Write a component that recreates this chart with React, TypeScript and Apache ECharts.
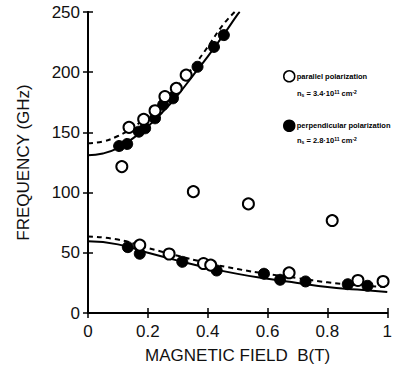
import React, { useEffect, useRef } from "react";
import * as echarts from "echarts";

// Measured data (B in tesla, frequency in GHz)
const perpUpperB = [0.104, 0.131, 0.17, 0.191, 0.224, 0.251, 0.284, 0.366, 0.421, 0.454];
const perpUpperF = [138.7, 140.4, 150.6, 153.4, 161.7, 172.9, 178.3, 204.5, 221, 230.8];
const perpLowerB = [0.133, 0.173, 0.315, 0.43, 0.588, 0.642, 0.727, 0.868, 0.934];
const perpLowerF = [54.7, 49.2, 42.5, 35.3, 32.6, 27.6, 26.2, 23.9, 22.6];

const paraUpperB = [0.137, 0.186, 0.224, 0.257, 0.295, 0.328];
const paraUpperF = [154.2, 160.9, 168, 179.8, 186.6, 197.6];
const paraLowerB = [0.173, 0.271, 0.386, 0.41, 0.672, 0.902, 0.986];
const paraLowerF = [56.4, 49, 41.1, 39.8, 33.4, 27, 26.2];
const paraIsolatedB = [0.113, 0.352, 0.536, 0.816];
const paraIsolatedF = [121.6, 100.8, 90.6, 76.8];

// Theory curves
const upperSolidB = [0, 0.05, 0.1, 0.15, 0.2, 0.25, 0.3, 0.35, 0.4, 0.45, 0.5, 0.507];
const upperSolidF = [131, 132.5, 137, 145, 155, 167, 181, 197, 213, 230, 248, 250];
const upperDashB = [0, 0.05, 0.1, 0.15, 0.2, 0.25, 0.3, 0.35, 0.4, 0.45, 0.49];
const upperDashF = [141, 142.5, 147, 154, 164, 176, 189, 204, 221, 239, 250];
const lowerB = [0, 0.1, 0.2, 0.3, 0.4, 0.5, 0.6, 0.7, 0.8, 0.9, 1.0];
const lowerSolidF = [59.5, 57, 50, 43.5, 37.5, 32.5, 28.5, 25, 21.5, 19.5, 17.5];
const lowerDashF = [63.5, 61, 54, 47.5, 41.5, 36.5, 32.5, 29, 25.5, 23, 21.5];

const xTicks = { min: 0, max: 1, interval: 0.2 };
const yTicks = { min: 0, max: 250, interval: 50 };

const zip = (a: number[], b: number[]) => a.map((v, i) => [v, b[i]]);

const FONT = "Liberation Sans";

export default function App() {
  const ref = useRef<HTMLDivElement>(null);
  useEffect(() => {
    if (!ref.current) return;
    const chart = echarts.init(ref.current, null, { renderer: "svg" });
    const axisLine = { show: true, lineStyle: { color: "#000", width: 2 } };
    const axisTick = { show: true, inside: true, length: 5, lineStyle: { color: "#000", width: 1.5 } };
    const label = { color: "#111", fontSize: 17, fontFamily: FONT };
    const openStyle = { color: "#fff", borderColor: "#000", borderWidth: 2, opacity: 1 };
    const filledStyle = { color: "#000", borderColor: "#000", borderWidth: 1, opacity: 1 };
    const rich = {
      n: { fontSize: 7.5, fontFamily: FONT, color: "#000", fontWeight: "bold" as const },
      sub: { fontSize: 5, fontFamily: FONT, color: "#000", verticalAlign: "bottom" as const, fontWeight: "bold" as const },
      sup: { fontSize: 5, fontFamily: FONT, color: "#000", verticalAlign: "top" as const, fontWeight: "bold" as const },
    };
    chart.setOption({
      animation: false,
      backgroundColor: "#fff",
      grid: { left: 88, right: 2, top: 12, bottom: 63, containLabel: false },
      xAxis: [
        {
          type: "value", ...xTicks, position: "bottom",
          name: "MAGNETIC FIELD  B(T)", nameLocation: "middle", nameGap: 34,
          nameTextStyle: { fontSize: 17, fontFamily: FONT, color: "#111" },
          axisLine, axisTick, splitLine: { show: false },
          axisLabel: { ...label, margin: 10 },
        },
        {
          type: "value", ...xTicks, position: "top",
          axisLine, axisTick, splitLine: { show: false }, axisLabel: { show: false },
        },
      ],
      yAxis: [
        {
          type: "value", ...yTicks, position: "left",
          name: "FREQUENCY (GHz)", nameLocation: "middle", nameGap: 56,
          nameTextStyle: { fontSize: 17, fontFamily: FONT, color: "#111" },
          axisLine, axisTick, splitLine: { show: false },
          axisLabel: { ...label, margin: 8 },
        },
        {
          type: "value", ...yTicks, position: "right",
          axisLine, axisTick, splitLine: { show: false }, axisLabel: { show: false },
        },
      ],
      legend: {
        orient: "vertical", left: 283, top: 70, itemGap: 37,
        itemWidth: 11, itemHeight: 11, padding: 0,
        textStyle: { fontSize: 7.5, fontFamily: FONT, color: "#000", fontWeight: "bold", padding: [0, 0, 0, -3] },
        itemStyle: { borderWidth: 1.5, opacity: 1 },
        data: [
          { name: "parallel polarization", icon: "circle" },
          { name: "perpendicular polarization", icon: "circle" },
        ],
      },
      graphic: [
        { type: "text", left: 297, top: 89, style: { text: "{n|n}{sub|s}{n| = 3.4·10}{sup|11}{n| cm}{sup|-2}", rich } },
        { type: "text", left: 297, top: 136, style: { text: "{n|n}{sub|s}{n| = 2.8·10}{sup|11}{n| cm}{sup|-2}", rich } },
      ],
      series: [
        { type: "line", name: "upper solid", data: zip(upperSolidB, upperSolidF), smooth: true, showSymbol: false, lineStyle: { color: "#000", width: 2 }, z: 2, silent: true },
        { type: "line", name: "upper dashed", data: zip(upperDashB, upperDashF), smooth: true, showSymbol: false, lineStyle: { color: "#000", width: 2, type: [5, 4] }, z: 2, silent: true },
        { type: "line", name: "lower solid", data: zip(lowerB, lowerSolidF), smooth: true, showSymbol: false, lineStyle: { color: "#000", width: 2 }, z: 2, silent: true },
        { type: "line", name: "lower dashed", data: zip(lowerB, lowerDashF), smooth: true, showSymbol: false, lineStyle: { color: "#000", width: 2, type: [5, 4] }, z: 2, silent: true },
        {
          type: "scatter", name: "perpendicular polarization",
          data: [...zip(perpUpperB, perpUpperF), ...zip(perpLowerB, perpLowerF)],
          symbol: "circle", symbolSize: 11, itemStyle: filledStyle, z: 3,
        },
        {
          type: "scatter", name: "parallel polarization",
          data: [...zip(paraUpperB, paraUpperF), ...zip(paraLowerB, paraLowerF), ...zip(paraIsolatedB, paraIsolatedF)],
          symbol: "circle", symbolSize: 11, itemStyle: openStyle, z: 4,
        },
      ],
    });
    return () => chart.dispose();
  }, []);
  return <div ref={ref} style={{ position: "fixed", left: 0, top: 0, width: 395, height: 376 }} />;
}
